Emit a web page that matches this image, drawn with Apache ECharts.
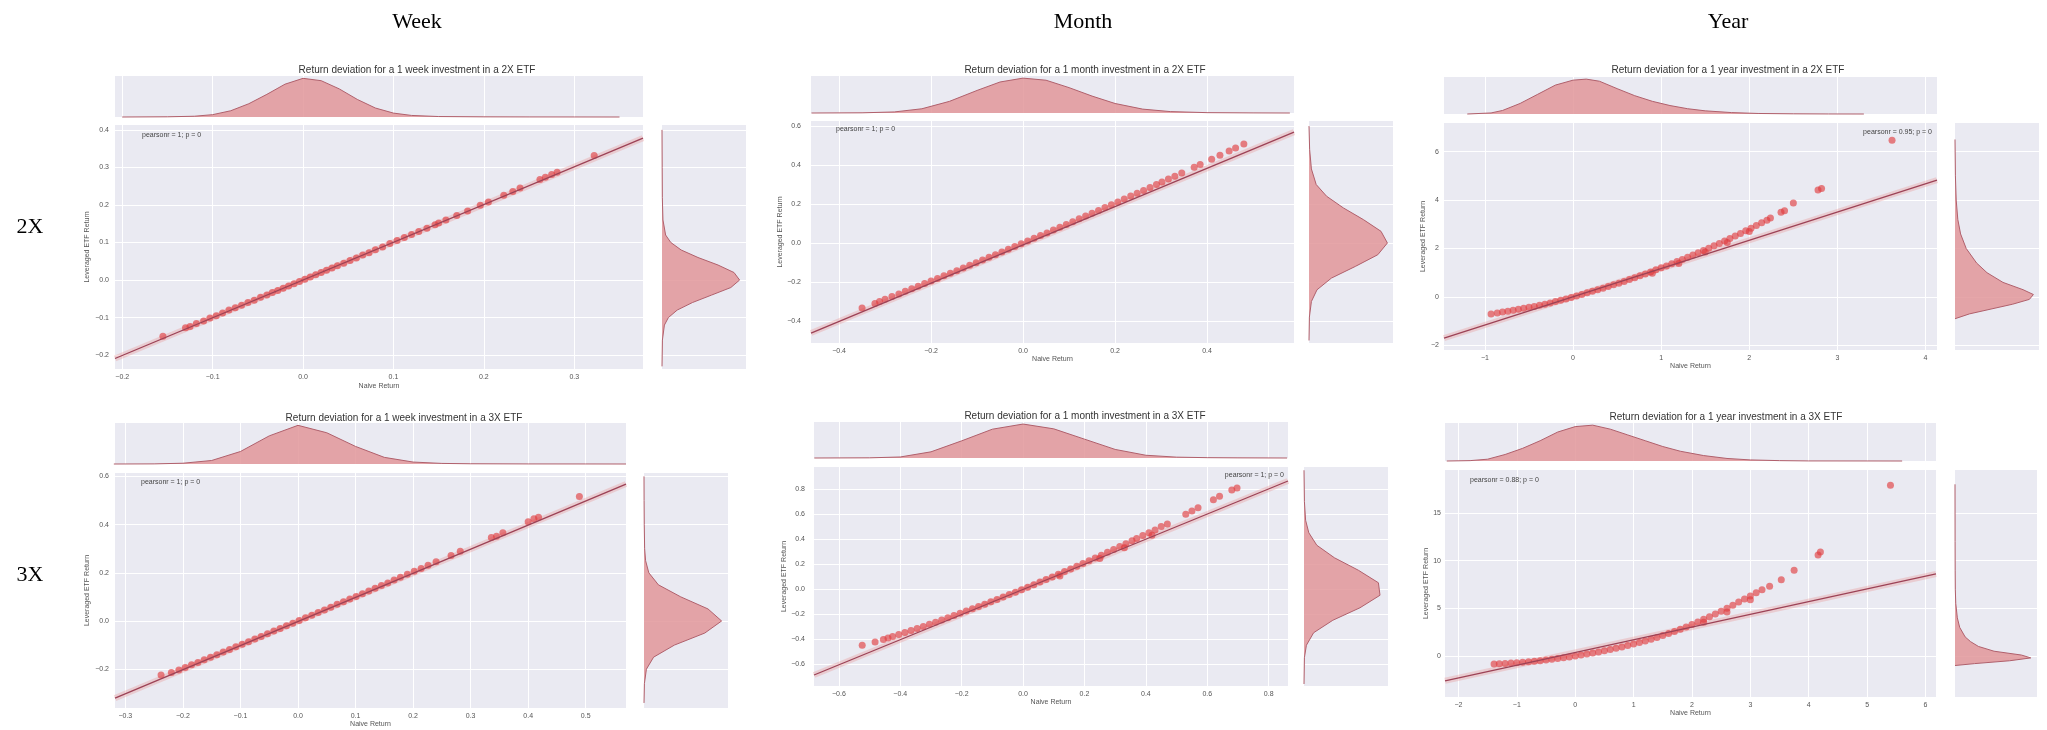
<!DOCTYPE html>
<html>
<head>
<meta charset="utf-8">
<title>Return deviation of leveraged ETFs</title>
<script src="https://cdn.jsdelivr.net/npm/echarts@6/dist/echarts.min.js"></script>
<style>
  html, body { margin: 0; padding: 0; background: #fff; }
  #main { width: 2047px; height: 730px; }
</style>
</head>
<body>
<div id="main"></div>
<script>
// ---- data ----
var columnNames = ['Week', 'Month', 'Year'];
var rowNames = ['2X', '3X'];

// week, 2X
var week2xNaive = [-0.155,-0.130,-0.125,-0.118,-0.110,-0.103,-0.096,-0.089,-0.082,-0.075,-0.068,-0.061,-0.054,-0.047,-0.040,-0.034,-0.028,-0.022,-0.016,-0.010,-0.004,0.002,0.008,0.014,0.020,0.026,0.032,0.038,0.045,0.052,0.059,0.066,0.073,0.080,0.088,0.096,0.104,0.112,0.120,0.128,0.137,0.146,0.150,0.158,0.170,0.182,0.196,0.205,0.222,0.232,0.240,0.262,0.268,0.275,0.281,0.322];
var week2xLev = [-0.150,-0.127,-0.124,-0.116,-0.109,-0.101,-0.095,-0.088,-0.080,-0.074,-0.067,-0.060,-0.054,-0.046,-0.040,-0.033,-0.028,-0.022,-0.016,-0.010,-0.004,0.002,0.008,0.014,0.020,0.026,0.032,0.038,0.045,0.052,0.059,0.067,0.073,0.081,0.088,0.097,0.105,0.113,0.121,0.129,0.138,0.147,0.152,0.160,0.172,0.184,0.199,0.208,0.226,0.236,0.245,0.268,0.274,0.281,0.287,0.332];
var week2xFitX = [-0.208, 0.376];
var week2xFitY = [-0.209, 0.378];
var week2xXTicks = [-0.2, -0.1, 0, 0.1, 0.2, 0.3];
var week2xYTicks = [-0.2, -0.1, 0, 0.1, 0.2, 0.3, 0.4];
var week2xKdeX = [-0.2,-0.15,-0.12,-0.1,-0.08,-0.06,-0.04,-0.02,0,0.02,0.04,0.06,0.08,0.1,0.12,0.15,0.2,0.25,0.3,0.35];
var week2xKdeXDens = [0,0.005,0.02,0.06,0.16,0.34,0.58,0.84,0.99,0.93,0.72,0.45,0.23,0.1,0.04,0.012,0.004,0.002,0.001,0];
var week2xKdeY = [-0.23,-0.16,-0.12,-0.1,-0.08,-0.06,-0.04,-0.02,0,0.02,0.04,0.06,0.08,0.1,0.12,0.16,0.22,0.3,0.4];
var week2xKdeYDens = [0,0.005,0.03,0.08,0.19,0.38,0.62,0.86,0.97,0.9,0.7,0.45,0.24,0.11,0.045,0.012,0.004,0.002,0];

// month, 2X
var month2xNaive = [-0.350,-0.322,-0.312,-0.300,-0.285,-0.270,-0.256,-0.242,-0.228,-0.214,-0.200,-0.186,-0.172,-0.158,-0.144,-0.130,-0.116,-0.102,-0.088,-0.074,-0.060,-0.046,-0.032,-0.018,-0.004,0.010,0.024,0.038,0.052,0.066,0.080,0.094,0.108,0.122,0.136,0.150,0.164,0.178,0.192,0.206,0.220,0.234,0.248,0.262,0.276,0.290,0.302,0.316,0.330,0.345,0.372,0.385,0.410,0.428,0.448,0.462,0.480];
var month2xLev = [-0.333,-0.310,-0.300,-0.289,-0.275,-0.261,-0.248,-0.235,-0.222,-0.208,-0.195,-0.182,-0.168,-0.155,-0.142,-0.128,-0.114,-0.101,-0.087,-0.073,-0.060,-0.046,-0.032,-0.018,-0.004,0.010,0.024,0.038,0.052,0.067,0.081,0.095,0.109,0.124,0.138,0.153,0.167,0.182,0.196,0.211,0.226,0.241,0.255,0.270,0.285,0.300,0.313,0.328,0.343,0.359,0.389,0.403,0.430,0.450,0.472,0.488,0.508];
var month2xFitX = [-0.461, 0.589];
var month2xFitY = [-0.462, 0.569];
var month2xXTicks = [-0.4, -0.2, 0, 0.2, 0.4];
var month2xYTicks = [-0.4, -0.2, 0, 0.2, 0.4, 0.6];
var month2xKdeX = [-0.46,-0.35,-0.28,-0.22,-0.16,-0.1,-0.05,0,0.05,0.1,0.15,0.2,0.26,0.32,0.4,0.5,0.58];
var month2xKdeXDens = [0,0.005,0.03,0.12,0.33,0.64,0.88,0.99,0.93,0.72,0.48,0.27,0.11,0.04,0.01,0.003,0];
var month2xKdeY = [-0.5,-0.38,-0.3,-0.24,-0.18,-0.12,-0.06,0,0.06,0.12,0.18,0.24,0.3,0.38,0.48,0.6];
var month2xKdeYDens = [0,0.005,0.03,0.1,0.28,0.58,0.86,0.98,0.9,0.68,0.43,0.22,0.09,0.03,0.008,0];

// year, 2X
var year2xNaive = [-0.93,-0.86,-0.80,-0.74,-0.68,-0.62,-0.56,-0.50,-0.44,-0.38,-0.32,-0.26,-0.20,-0.14,-0.08,-0.02,0.04,0.10,0.16,0.22,0.28,0.34,0.40,0.46,0.52,0.58,0.64,0.70,0.76,0.82,0.88,0.90,0.94,1.00,1.06,1.12,1.18,1.20,1.24,1.30,1.36,1.42,1.48,1.50,1.54,1.60,1.66,1.72,1.75,1.78,1.84,1.90,1.96,2.00,2.02,2.08,2.14,2.20,2.24,2.36,2.40,2.50,2.78,2.82,3.62];
var year2xLev = [-0.70,-0.66,-0.62,-0.59,-0.55,-0.51,-0.47,-0.43,-0.39,-0.34,-0.30,-0.25,-0.19,-0.14,-0.08,-0.02,0.04,0.10,0.17,0.23,0.30,0.36,0.43,0.50,0.57,0.64,0.72,0.79,0.87,0.95,1.03,0.98,1.12,1.20,1.28,1.37,1.46,1.38,1.55,1.64,1.73,1.82,1.92,1.86,2.01,2.11,2.21,2.31,2.25,2.41,2.52,2.62,2.73,2.70,2.84,2.95,3.06,3.17,3.26,3.50,3.56,3.88,4.41,4.48,6.47];
var year2xFitX = [-1.464, 4.13];
var year2xFitY = [-1.70, 4.82];
var year2xXTicks = [-1, 0, 1, 2, 3, 4];
var year2xYTicks = [-2, 0, 2, 4, 6];
var year2xKdeX = [-1.2,-0.93,-0.8,-0.6,-0.4,-0.2,0,0.15,0.3,0.5,0.7,0.9,1.1,1.3,1.5,1.8,2.1,2.5,2.9,3.3];
var year2xKdeXDens = [0,0.03,0.1,0.3,0.56,0.82,0.96,0.99,0.93,0.72,0.52,0.36,0.24,0.15,0.09,0.04,0.015,0.005,0.001,0];
var year2xKdeY = [-0.9,-0.7,-0.5,-0.3,-0.1,0.1,0.3,0.6,1.0,1.4,2.0,2.6,3.2,4.0,5.0,6.5];
var year2xKdeYDens = [0,0.18,0.45,0.72,0.93,0.98,0.85,0.6,0.4,0.27,0.14,0.07,0.035,0.015,0.005,0];

// week, 3X
var week3xNaive = [-0.238,-0.220,-0.207,-0.196,-0.185,-0.174,-0.163,-0.152,-0.141,-0.130,-0.119,-0.108,-0.097,-0.086,-0.075,-0.064,-0.053,-0.042,-0.031,-0.020,-0.009,0.002,0.013,0.024,0.035,0.046,0.057,0.068,0.079,0.090,0.101,0.112,0.123,0.134,0.145,0.156,0.167,0.178,0.190,0.202,0.214,0.226,0.240,0.266,0.282,0.336,0.345,0.356,0.400,0.410,0.418,0.489];
var week3xLev = [-0.224,-0.214,-0.203,-0.193,-0.182,-0.172,-0.161,-0.150,-0.140,-0.129,-0.118,-0.107,-0.096,-0.086,-0.075,-0.064,-0.053,-0.042,-0.031,-0.020,-0.009,0.002,0.013,0.024,0.035,0.046,0.057,0.069,0.080,0.091,0.102,0.113,0.124,0.136,0.147,0.158,0.170,0.181,0.194,0.206,0.218,0.231,0.246,0.272,0.289,0.346,0.352,0.366,0.412,0.424,0.430,0.516];
var week3xFitX = [-0.318, 0.570];
var week3xFitY = [-0.320, 0.568];
var week3xXTicks = [-0.3, -0.2, -0.1, 0, 0.1, 0.2, 0.3, 0.4, 0.5];
var week3xYTicks = [-0.2, 0, 0.2, 0.4, 0.6];
var week3xKdeX = [-0.32,-0.25,-0.2,-0.15,-0.1,-0.05,0,0.05,0.1,0.15,0.2,0.25,0.3,0.4,0.5,0.57];
var week3xKdeXDens = [0,0.003,0.02,0.09,0.32,0.72,0.99,0.8,0.45,0.17,0.05,0.015,0.006,0.002,0.001,0];
var week3xKdeY = [-0.34,-0.26,-0.2,-0.15,-0.1,-0.05,0,0.05,0.1,0.15,0.2,0.25,0.3,0.4,0.5,0.6];
var week3xKdeYDens = [0,0.005,0.03,0.12,0.38,0.76,0.97,0.8,0.46,0.18,0.06,0.02,0.008,0.003,0.001,0];

// month, 3X
var month3xNaive = [-0.524,-0.482,-0.455,-0.440,-0.425,-0.405,-0.385,-0.365,-0.345,-0.325,-0.305,-0.285,-0.265,-0.245,-0.225,-0.205,-0.185,-0.165,-0.145,-0.125,-0.105,-0.085,-0.065,-0.045,-0.025,-0.005,0.015,0.035,0.055,0.075,0.095,0.115,0.120,0.135,0.155,0.175,0.195,0.215,0.235,0.250,0.255,0.275,0.295,0.315,0.330,0.335,0.355,0.370,0.390,0.410,0.420,0.430,0.450,0.470,0.530,0.550,0.570,0.620,0.640,0.680,0.697];
var month3xLev = [-0.450,-0.424,-0.403,-0.392,-0.380,-0.364,-0.348,-0.332,-0.315,-0.299,-0.282,-0.265,-0.247,-0.230,-0.212,-0.194,-0.176,-0.158,-0.140,-0.121,-0.102,-0.083,-0.064,-0.044,-0.025,-0.005,0.015,0.035,0.056,0.076,0.097,0.118,0.105,0.140,0.161,0.183,0.205,0.227,0.249,0.245,0.271,0.294,0.317,0.340,0.330,0.363,0.387,0.404,0.428,0.450,0.430,0.472,0.500,0.520,0.598,0.625,0.650,0.715,0.742,0.792,0.808];
var month3xFitX = [-0.681, 0.863];
var month3xFitY = [-0.688, 0.864];
var month3xXTicks = [-0.6, -0.4, -0.2, 0, 0.2, 0.4, 0.6, 0.8];
var month3xYTicks = [-0.6, -0.4, -0.2, 0, 0.2, 0.4, 0.6, 0.8];
var month3xKdeX = [-0.68,-0.5,-0.4,-0.3,-0.2,-0.1,0,0.1,0.2,0.3,0.4,0.5,0.6,0.7,0.86];
var month3xKdeXDens = [0,0.005,0.03,0.18,0.5,0.84,0.99,0.85,0.55,0.25,0.08,0.025,0.01,0.004,0];
var month3xKdeY = [-0.76,-0.55,-0.45,-0.35,-0.25,-0.15,-0.05,0.05,0.15,0.25,0.35,0.45,0.55,0.7,0.95];
var month3xKdeYDens = [0,0.005,0.03,0.12,0.36,0.7,0.95,0.93,0.68,0.38,0.16,0.06,0.02,0.005,0];

// year, 3X
var year3xNaive = [-1.39,-1.30,-1.20,-1.10,-1.00,-0.90,-0.80,-0.70,-0.60,-0.50,-0.40,-0.30,-0.20,-0.10,0.00,0.10,0.20,0.30,0.40,0.50,0.60,0.70,0.80,0.90,1.00,1.10,1.20,1.30,1.40,1.50,1.60,1.70,1.80,1.90,2.00,2.10,2.20,2.30,2.40,2.50,2.60,2.70,2.80,2.90,3.00,3.10,3.20,3.33,2.2,2.6,3.0,3.53,3.75,4.16,4.20,5.40];
var year3xLev = [-0.84,-0.81,-0.78,-0.74,-0.70,-0.65,-0.61,-0.55,-0.49,-0.43,-0.35,-0.27,-0.19,-0.10,0.00,0.10,0.20,0.31,0.43,0.55,0.67,0.80,0.95,1.10,1.25,1.41,1.58,1.76,1.95,2.15,2.35,2.57,2.80,3.05,3.30,3.57,3.85,4.12,4.40,4.70,5.00,5.32,5.65,5.97,6.30,6.62,6.95,7.30,3.55,4.60,5.90,8.00,9.00,10.60,10.90,17.90];
var year3xFitX = [-2.23, 6.18];
var year3xFitY = [-2.60, 8.60];
var year3xXTicks = [-2, -1, 0, 1, 2, 3, 4, 5, 6];
var year3xYTicks = [0, 5, 10, 15];
var year3xKdeX = [-2.2,-1.8,-1.5,-1.2,-0.9,-0.6,-0.3,0,0.3,0.6,0.9,1.2,1.5,1.8,2.2,2.6,3.0,3.5,4.0,5.0,5.6];
var year3xKdeXDens = [0,0.01,0.05,0.18,0.35,0.56,0.8,0.95,0.99,0.88,0.72,0.56,0.4,0.27,0.15,0.07,0.03,0.01,0.002,0.001,0];
var year3xKdeY = [-1.0,-0.8,-0.5,-0.2,0.1,0.5,1.0,1.5,2.0,3.0,4.0,5.5,7.0,9,12,18];
var year3xKdeYDens = [0,0.25,0.7,0.97,0.85,0.5,0.3,0.2,0.13,0.06,0.03,0.01,0.004,0.002,0.001,0];

// ---- layout (pixel boxes are [left, top, width, height]) ----
var panels = [
  { title: 'Return deviation for a 1 week investment in a 2X ETF', titleAt: [417, 70],
    pearson: 'pearsonr = 1; p = 0', pearsonAt: [142, 135], pearsonAlign: 'left',
    top: [115, 76, 528, 41], main: [115, 125, 528, 244], right: [662, 125, 84, 244],
    xRange: [-0.208, 0.376], yRange: [-0.237, 0.413], digits: 1,
    yLabelMargin: 6, yNameGap: 24, xNameGap: 14,
    naive: week2xNaive, lev: week2xLev, fitX: week2xFitX, fitY: week2xFitY,
    xTicks: week2xXTicks, yTicks: week2xYTicks,
    kdeX: week2xKdeX, kdeXDens: week2xKdeXDens, kdeY: week2xKdeY, kdeYDens: week2xKdeYDens },
  { title: 'Return deviation for a 1 month investment in a 2X ETF', titleAt: [1085, 70],
    pearson: 'pearsonr = 1; p = 0', pearsonAt: [836, 129], pearsonAlign: 'left',
    top: [811, 76, 483, 37], main: [811, 121, 483, 222], right: [1309, 121, 84, 222],
    xRange: [-0.461, 0.589], yRange: [-0.513, 0.626], digits: 1,
    yLabelMargin: 10, yNameGap: 21, xNameGap: 12,
    naive: month2xNaive, lev: month2xLev, fitX: month2xFitX, fitY: month2xFitY,
    xTicks: month2xXTicks, yTicks: month2xYTicks,
    kdeX: month2xKdeX, kdeXDens: month2xKdeXDens, kdeY: month2xKdeY, kdeYDens: month2xKdeYDens },
  { title: 'Return deviation for a 1 year investment in a 2X ETF', titleAt: [1728, 70],
    pearson: 'pearsonr = 0.95; p = 0', pearsonAt: [1932, 132], pearsonAlign: 'right',
    top: [1444, 77, 493, 37], main: [1444, 123, 493, 227], right: [1955, 123, 84, 227],
    xRange: [-1.464, 4.13], yRange: [-2.19, 7.18], digits: 0,
    yLabelMargin: 5, yNameGap: 17, xNameGap: 13,
    naive: year2xNaive, lev: year2xLev, fitX: year2xFitX, fitY: year2xFitY,
    xTicks: year2xXTicks, yTicks: year2xYTicks,
    kdeX: year2xKdeX, kdeXDens: year2xKdeXDens, kdeY: year2xKdeY, kdeYDens: year2xKdeYDens },
  { title: 'Return deviation for a 1 week investment in a 3X ETF', titleAt: [404, 418],
    pearson: 'pearsonr = 1; p = 0', pearsonAt: [141, 482], pearsonAlign: 'left',
    top: [115, 423, 511, 41], main: [115, 473, 511, 235], right: [644, 473, 84, 235],
    xRange: [-0.318, 0.570], yRange: [-0.361, 0.614], digits: 1,
    yLabelMargin: 6, yNameGap: 24, xNameGap: 13,
    naive: week3xNaive, lev: week3xLev, fitX: week3xFitX, fitY: week3xFitY,
    xTicks: week3xXTicks, yTicks: week3xYTicks,
    kdeX: week3xKdeX, kdeXDens: week3xKdeXDens, kdeY: week3xKdeY, kdeYDens: week3xKdeYDens },
  { title: 'Return deviation for a 1 month investment in a 3X ETF', titleAt: [1085, 416],
    pearson: 'pearsonr = 1; p = 0', pearsonAt: [1284, 475], pearsonAlign: 'right',
    top: [814, 422, 474, 36], main: [814, 467, 474, 219], right: [1304, 467, 84, 219],
    xRange: [-0.681, 0.863], yRange: [-0.776, 0.976], digits: 1,
    yLabelMargin: 9, yNameGap: 19, xNameGap: 12,
    naive: month3xNaive, lev: month3xLev, fitX: month3xFitX, fitY: month3xFitY,
    xTicks: month3xXTicks, yTicks: month3xYTicks,
    kdeX: month3xKdeX, kdeXDens: month3xKdeXDens, kdeY: month3xKdeY, kdeYDens: month3xKdeYDens },
  { title: 'Return deviation for a 1 year investment in a 3X ETF', titleAt: [1726, 417],
    pearson: 'pearsonr = 0.88; p = 0', pearsonAt: [1470, 480], pearsonAlign: 'left',
    top: [1445, 423, 491, 38], main: [1445, 470, 491, 227], right: [1955, 470, 82, 227],
    xRange: [-2.23, 6.18], yRange: [-4.3, 19.5], digits: 0,
    yLabelMargin: 4, yNameGap: 14, xNameGap: 12,
    naive: year3xNaive, lev: year3xLev, fitX: year3xFitX, fitY: year3xFitY,
    xTicks: year3xXTicks, yTicks: year3xYTicks,
    kdeX: year3xKdeX, kdeXDens: year3xKdeXDens, kdeY: year3xKdeY, kdeYDens: year3xKdeYDens }
];

var SANS = '"Liberation Sans", Arial, sans-serif';
var BG = '#eaeaf2';
var POINT = 'rgba(224, 60, 62, 0.8)';
var FIT = '#9c4256';
var KDE_FILL = 'rgba(226, 150, 154, 0.85)';
var KDE_LINE = '#b0606c';

function fmt(digits) {
  return function (v) {
    var s = Math.abs(v).toFixed(digits);
    return (v < -1e-9 ? '\u2212' : '') + s;
  };
}

function zip(a, b) {
  return a.map(function (v, i) { return [v, b[i]]; });
}

function box(b) {
  return { left: b[0], top: b[1], width: b[2], height: b[3], show: true,
    backgroundColor: BG, borderWidth: 0, containLabel: false, outerBoundsMode: 'none' };
}

function valAxis(gridIndex, range, ticks, withLabels, p, isY) {
  var ax = {
    type: 'value', gridIndex: gridIndex, min: range[0], max: range[1],
    axisLine: { show: false },
    axisTick: { show: false, customValues: ticks },
    splitLine: { show: true, lineStyle: { color: '#fff', width: 1 } },
    axisLabel: { show: withLabels, customValues: ticks, formatter: fmt(p.digits),
      fontSize: 7, color: '#555', fontFamily: SANS, margin: isY ? p.yLabelMargin : 5 }
  };
  if (withLabels) {
    ax.name = isY ? 'Leveraged ETF Return' : 'Naive Return';
    ax.nameLocation = 'middle';
    ax.nameGap = isY ? p.yNameGap : p.xNameGap;
    ax.nameTextStyle = { fontSize: 7, color: '#555', fontFamily: SANS };
  }
  return ax;
}

function densAxis(gridIndex) {
  return { type: 'value', gridIndex: gridIndex, min: 0, max: 1.05, show: false,
    splitLine: { show: false } };
}

function kdeSeries(gridIndex, pts) {
  return {
    type: 'custom', xAxisIndex: gridIndex, yAxisIndex: gridIndex, silent: true,
    data: pts, encode: { x: 0, y: 1 }, z: 3,
    renderItem: function (params, api) {
      if (params.dataIndex !== 0) return;
      var px = pts.map(function (q) { return api.coord(q); });
      return {
        type: 'group',
        children: [
          { type: 'polygon', shape: { points: px }, style: { fill: KDE_FILL } },
          { type: 'polyline', shape: { points: px.slice(1, -1) },
            style: { stroke: KDE_LINE, lineWidth: 1, fill: null } }
        ]
      };
    }
  };
}

var grids = [], xAxes = [], yAxes = [], series = [], graphics = [];

panels.forEach(function (p) {
  var g = grids.length;
  grids.push(box(p.top), box(p.main), box(p.right));

  // top marginal, main, right marginal
  xAxes.push(valAxis(g, p.xRange, p.xTicks, false, p, false));
  yAxes.push(densAxis(g));
  xAxes.push(valAxis(g + 1, p.xRange, p.xTicks, true, p, false));
  yAxes.push(valAxis(g + 1, p.yRange, p.yTicks, true, p, true));
  xAxes.push(densAxis(g + 2));
  yAxes.push(valAxis(g + 2, p.yRange, p.yTicks, false, p, true));

  var topPts = zip(p.kdeX, p.kdeXDens);
  topPts.unshift([p.kdeX[0], 0]);
  topPts.push([p.kdeX[p.kdeX.length - 1], 0]);
  series.push(kdeSeries(g, topPts));

  var rightPts = zip(p.kdeYDens, p.kdeY);
  rightPts.unshift([0, p.kdeY[0]]);
  rightPts.push([0, p.kdeY[p.kdeY.length - 1]]);
  series.push(kdeSeries(g + 2, rightPts));

  series.push({
    type: 'scatter', xAxisIndex: g + 1, yAxisIndex: g + 1, silent: true,
    data: zip(p.naive, p.lev), symbolSize: 7, z: 3,
    itemStyle: { color: POINT }
  });
  series.push({
    type: 'line', xAxisIndex: g + 1, yAxisIndex: g + 1, silent: true,
    data: zip(p.fitX, p.fitY), showSymbol: false, z: 2,
    lineStyle: { color: 'rgba(232, 150, 150, 0.35)', width: 6 }
  });
  series.push({
    type: 'line', xAxisIndex: g + 1, yAxisIndex: g + 1, silent: true,
    data: zip(p.fitX, p.fitY), showSymbol: false, z: 4,
    lineStyle: { color: FIT, width: 1.3 }
  });

  graphics.push({ type: 'text', x: p.titleAt[0], y: p.titleAt[1],
    style: { text: p.title, font: '10px ' + SANS, fill: '#333',
      textAlign: 'center', align: 'center', textVerticalAlign: 'middle', verticalAlign: 'middle' } });
  graphics.push({ type: 'text', x: p.pearsonAt[0], y: p.pearsonAt[1], z: 10,
    style: { text: p.pearson, font: '7px ' + SANS, fill: '#444',
      textAlign: p.pearsonAlign, align: p.pearsonAlign, textVerticalAlign: 'middle', verticalAlign: 'middle' } });
});

// column and row headers
var colX = [417, 1083, 1728];
columnNames.forEach(function (name, i) {
  graphics.push({ type: 'text', x: colX[i], y: 22,
    style: { text: name, font: '22px "Liberation Serif", "Times New Roman", serif', fill: '#000',
      textAlign: 'center', align: 'center', textVerticalAlign: 'middle', verticalAlign: 'middle' } });
});
var rowY = [227, 575];
rowNames.forEach(function (name, i) {
  graphics.push({ type: 'text', x: 30, y: rowY[i],
    style: { text: name, font: '22px "Liberation Serif", "Times New Roman", serif', fill: '#000',
      textAlign: 'center', align: 'center', textVerticalAlign: 'middle', verticalAlign: 'middle' } });
});

var chart = echarts.init(document.getElementById('main'));
chart.setOption({
  backgroundColor: '#fff',
  animation: false,
  grid: grids,
  xAxis: xAxes,
  yAxis: yAxes,
  series: series,
  graphic: { elements: graphics }
});
</script>
</body>
</html>
